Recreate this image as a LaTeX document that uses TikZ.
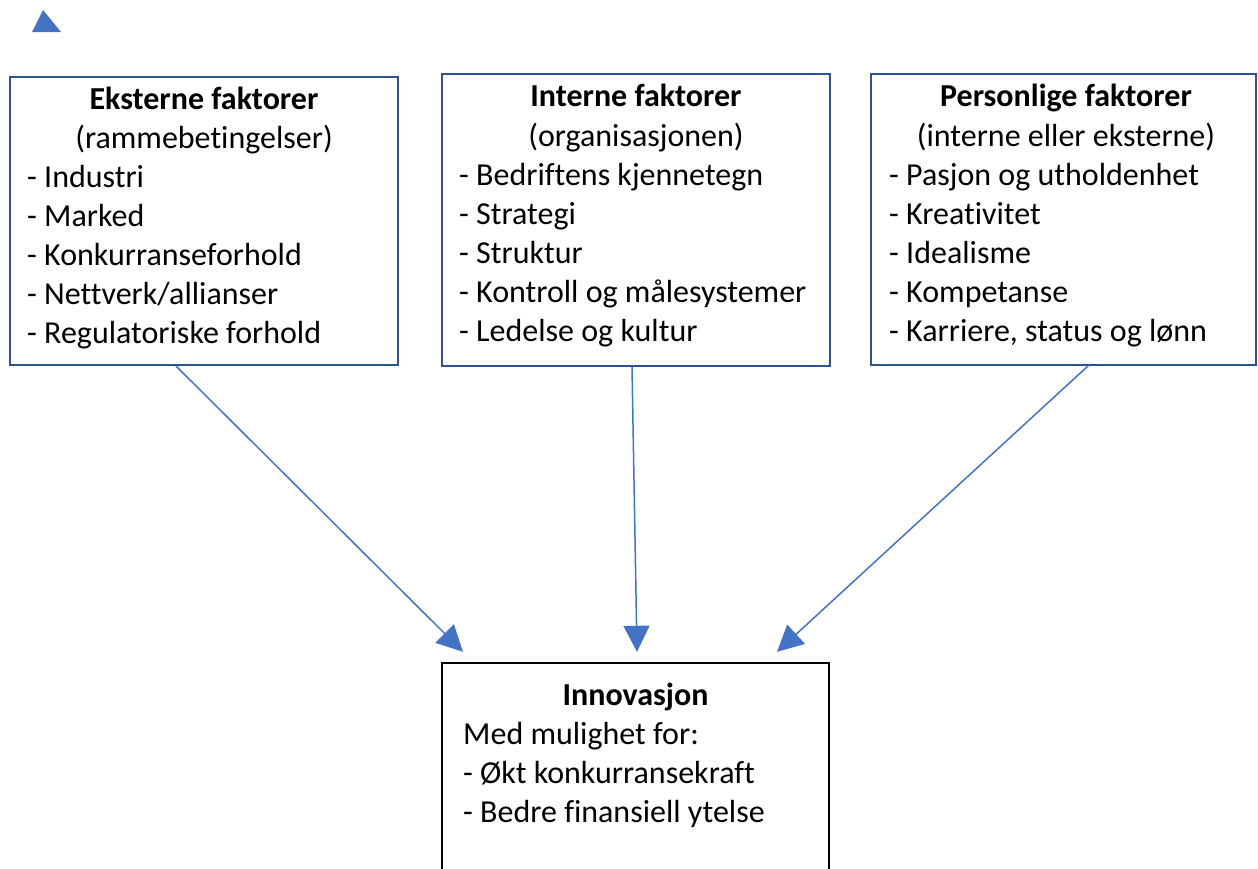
\documentclass[tikz,border=0pt]{standalone}
\usepackage{fontspec}
\setmainfont{Carlito}[Ligatures=NoCommon]
\usetikzlibrary{arrows.meta}
\definecolor{frameblue}{HTML}{2F528F}
\definecolor{arrowblue}{HTML}{4472C4}
\begin{document}
\begin{tikzpicture}[x=1pt,y=-1pt,
  box/.style={draw=frameblue,line width=2pt,inner sep=0pt,fill=white},
  resultbox/.style={draw=black,line width=2.4pt,inner sep=0pt,fill=white},
  txt/.style={inner sep=0pt,font=\fontsize{32}{39}\selectfont},
  head/.style={txt,anchor=base,font=\fontsize{32}{39}\selectfont\bfseries},
  sub/.style={txt,anchor=base},
  item/.style={txt,anchor=base west},
  flow/.style={draw=arrowblue,line width=1.5pt,-{Triangle[length=26pt,width=26pt]}}]
\useasboundingbox (0,0) rectangle (1258,868);
\clip (0,0) rectangle (1258,868);

% small marker at the top left
\fill[arrowblue] (43,10) -- (61,32) -- (32,32) -- cycle;

% the three groups of factors
\node[box,minimum width=388pt,minimum height=288pt] (b1) at (204,221) {};
\node[box,minimum width=388pt,minimum height=292pt] (b2) at (636,220) {};
\node[box,minimum width=385pt,minimum height=291pt] (b3) at (1063.5,219.5) {};
% the outcome box, running past the lower edge
\node[resultbox,minimum width=387pt,minimum height=260pt] (b4) at (635.5,793) {};

% external factors
\node[head] (h1) at (204,109) {Eksterne faktorer};
\node[sub] (s1) at (204,148) {(rammebetingelser)};
\foreach \t [count=\i] in {Industri,Marked,Konkurranseforhold,Nettverk/allianser,Regulatoriske forhold}
  \node[item] (l1-\i) at (27,{187+39.1*(\i-1)}) {- \t};

% internal factors
\node[head] (h2) at (636,106) {Interne faktorer};
\node[sub] (s2) at (636,146) {(organisasjonen)};
\foreach \t [count=\i] in {Bedriftens kjennetegn,Strategi,Struktur,Kontroll og målesystemer,Ledelse og kultur}
  \node[item] (l2-\i) at (459,{185+39.2*(\i-1)}) {- \t};

% personal factors
\node[head] (h3) at (1066,106) {Personlige faktorer};
\node[sub] (s3) at (1066,146) {(interne eller eksterne)};
\foreach \t [count=\i] in {Pasjon og utholdenhet,Kreativitet,Idealisme,Kompetanse,{Karriere, status og lønn}}
  \node[item] (l3-\i) at (889,{185+39.2*(\i-1)}) {- \t};

% outcome
\node[head] (h4) at (635.5,705) {Innovasjon};
\node[item] (m4) at (463,744) {Med mulighet for:};
\node[item] (l4-1) at (463,783) {- Økt konkurransekraft};
\node[item] (l4-2) at (463,822) {- Bedre finansiell ytelse};

% influences on innovation
\draw[flow] ([xshift=-28pt]b1.south) -- ([xshift=-172.5pt,yshift=10pt]b4.north);
\draw[flow] ([xshift=-4pt]b2.south) -- ([xshift=1.5pt,yshift=10pt]b4.north);
\draw[flow] ([xshift=25.5pt,yshift=1pt]b3.south) -- ([xshift=141.5pt,yshift=10pt]b4.north);
\end{tikzpicture}
\end{document}
